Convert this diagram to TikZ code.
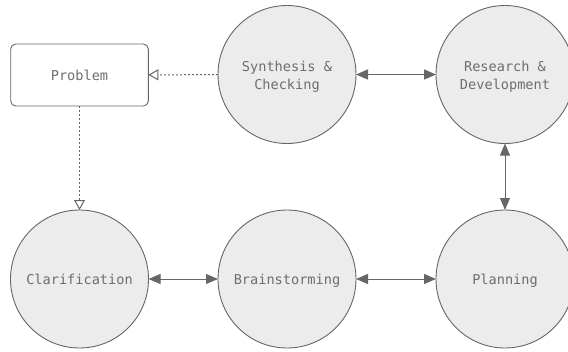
\documentclass[tikz,border=0pt]{standalone}
\usepackage{fontspec}
\setmonofont{DejaVu Sans Mono}
\usetikzlibrary{arrows.meta}
\definecolor{strokegray}{HTML}{666666}
\definecolor{textgray}{HTML}{6E6E6E}
\definecolor{fillgray}{HTML}{ECECEC}
\newcommand\mystrut{\rule[-3pt]{0pt}{17pt}}
\tikzset{
  stage/.style={circle, draw=strokegray, fill=fillgray, line width=0.9pt, minimum size=138pt, inner sep=0pt, outer sep=0pt, align=center, text=textgray, font=\ttfamily\fontsize{13.6}{16.7}\selectfont},
  probbox/.style={rectangle, rounded corners=5pt, draw=strokegray, fill=white, line width=0.9pt, minimum width=137.6pt, minimum height=62pt, inner sep=0pt, outer sep=0pt, text=textgray, font=\ttfamily\fontsize{13.6}{16.7}\selectfont},
  biarrow/.style={draw=strokegray, line width=1pt, {Triangle[length=12pt, width=10pt]}-{Triangle[length=12pt, width=10pt]}},
  dotarrow/.style={draw=strokegray, line width=1pt, dash pattern=on 2pt off 2pt, -{Triangle[open, length=10pt, width=11pt, line width=1pt]}}
}
\begin{document}
\begin{tikzpicture}[x=1pt, y=-1pt]
  \useasboundingbox (0,0) rectangle (568,351);
  \node[probbox] (problem) at (79.5,75) {\mystrut Problem};
  \node[stage] (synth) at (287,74.5) {\mystrut Synthesis \&\\\mystrut Checking};
  \node[stage] (rd) at (505,74.5) {\mystrut Research \&\\\mystrut Development};
  \node[stage] (clar) at (79.5,279) {\mystrut Clarification};
  \node[stage] (brain) at (287,279) {\mystrut Brainstorming};
  \node[stage] (plan) at (505,279) {\mystrut Planning};
  \draw[dotarrow] (synth) -- (problem);
  \draw[dotarrow] (problem) -- (clar);
  \draw[biarrow] (synth) -- (rd);
  \draw[biarrow] (rd) -- (plan);
  \draw[biarrow] (clar) -- (brain);
  \draw[biarrow] (brain) -- (plan);
\end{tikzpicture}
\end{document}
